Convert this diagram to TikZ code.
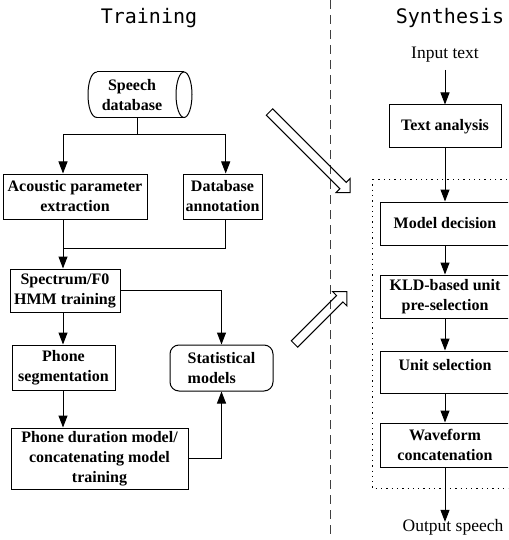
\documentclass[tikz,border=0pt]{standalone}
\usepackage{fontspec}
\setmainfont{Liberation Serif}
\newfontfamily\titlefont{DejaVu Sans Mono}
\usetikzlibrary{arrows.meta,calc}
\begin{document}
\begin{tikzpicture}[x=1pt,y=-1pt,
  box/.style={draw, line width=1pt, inner sep=0pt, align=center,
    font=\fontsize{16}{20}\selectfont\bfseries},
  plain/.style={inner sep=0pt, font=\fontsize{17.5}{21}\selectfont},
  title/.style={inner sep=0pt, font=\fontsize{20}{24}\selectfont\titlefont},
  arr/.style={-{Triangle[length=12pt,width=9pt]}, line width=1pt},
  line/.style={line width=1pt},
  hollow/.style={line width=1pt}]
\useasboundingbox (0,0) rectangle (508,540);
\clip (0,0) rectangle (508,540);

% titles
\node[title] (ttrain) at (149,18) {Training};
\node[title] (tsynth) at (450,18) {Synthesis};

% separator
\draw[line width=1pt, black!75, dash pattern=on 9pt off 6pt] (330,0) -- (330,540);

% ---------- Training ----------
\node[inner sep=0pt, minimum height=45pt, align=center,
  font=\fontsize{16}{20}\selectfont\bfseries] (db) at (132,95) {Speech\\database};
\draw[line] (97,72) -- (184,72);
\draw[line] (97,117.5) -- (184,117.5);
\draw[line] (97,72) .. controls (85,72) and (85,117.5) .. (97,117.5);
\draw[line] (184,94.75) ellipse [x radius=8, y radius=22.75];

\node[box, minimum width=144pt, minimum height=45pt] (ape) at (75,196.5) {Acoustic parameter\\extraction};
\node[box, minimum width=79pt, minimum height=45pt] (dba) at (222.5,196.5) {Database\\annotation};
\node[box, minimum width=110pt, minimum height=43pt] (hmm) at (65,290.5) {Spectrum/F0\\HMM training};
\node[box, minimum width=103pt, minimum height=45pt] (seg) at (63.5,367.5) {Phone\\segmentation};
\node[box, rounded corners=9pt, align=left, minimum width=103pt, minimum height=46pt] (stat) at (221.5,368) {Statistical\\models};
\node[box, minimum width=177pt, minimum height=61pt] (dur) at (99.5,458.5) {Phone duration model/\\concatenating model\\training};

\coordinate (j1) at (137,135);
\coordinate (j1l) at (63,135);
\coordinate (j1r) at (225.7,135);
\coordinate (j2) at (63,248);

\draw[line] (db.south -| j1) -- (j1);
\draw[arr] (j1) -| (ape.north -| j1l);
\draw[arr] (j1) -| (dba.north -| j1r);
\draw[line] (ape.south -| j2) -- (j2);
\draw[line] (dba.south -| j1r) |- (j2);
\draw[arr] (j2) -- (hmm.north -| j2);
\draw[arr] (hmm.east) -| (stat.north);
\draw[arr] (hmm.south -| j2) -- (seg.north -| j2);
\draw[arr] (seg.south -| j2) -- (dur.north -| j2);
\draw[arr] (dur.east) -| (stat.south);

% hollow arrows
\begin{scope}[shift={(269.5,112)}, rotate=-45]
\draw[hollow] (0,-4.5) -- (104,-4.5) -- (104,-10) -- (114,0) -- (104,10) -- (104,4.5) -- (0,4.5) -- cycle;
\end{scope}
\begin{scope}[shift={(294.5,344)}, rotate=45]
\draw[hollow] (0,-4.5) -- (64,-4.5) -- (64,-10) -- (74,0) -- (64,10) -- (64,4.5) -- (0,4.5) -- cycle;
\end{scope}

% ---------- Synthesis ----------
\node[plain] (in) at (445,55) {Input text};
\node[box, minimum width=112pt, minimum height=43pt] (ta) at (445,126.5) {Text analysis};
\draw[line, dash pattern=on 1.3pt off 4pt] (372,179) rectangle (520,488);
\node[box, minimum width=130pt, minimum height=43pt] (md) at (445,223.5) {Model decision};
\node[box, minimum width=130pt, minimum height=43pt] (kld) at (445,296.5) {KLD-based unit\\pre-selection};
\node[box, minimum width=130pt, minimum height=42pt, text height=11.5pt, text depth=14.5pt] (us) at (445,372) {Unit selection};
\node[box, minimum width=130pt, minimum height=44pt] (wf) at (445,445) {Waveform\\concatenation};
\node[plain] (out) at (453,527) {Output speech};

\draw[arr, shorten <=7pt] (in.south) -- (ta.north);
\draw[arr] (ta.south) -- (md.north);
\draw[arr] (md.south) -- (kld.north);
\draw[arr] (kld.south) -- (us.north);
\draw[arr] (us.south) -- (wf.north);
\draw[arr] (wf.south) -- ($(wf.south |- out.north)+(0,3)$);
\end{tikzpicture}
\end{document}
